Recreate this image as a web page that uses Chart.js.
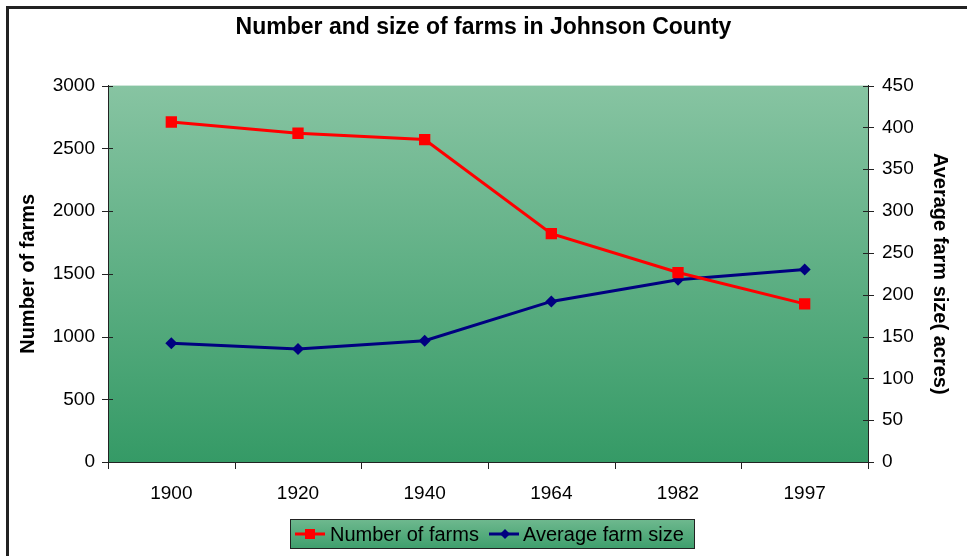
<!DOCTYPE html>
<html>
<head>
<meta charset="utf-8">
<script src="https://cdn.jsdelivr.net/npm/chart.js@4"></script>
<style>
  html, body { margin: 0; padding: 0; background: #fff; }
  #wrap { width: 967px; height: 556px; position: relative; }
</style>
</head>
<body>
<div id="wrap"><canvas id="farmChart" width="967" height="556"></canvas></div>
<script>
const YEARS = ['1900', '1920', '1940', '1964', '1982', '1997'];
const FARM_COUNT = [2710, 2620, 2570, 1820, 1510, 1260];
const FARM_SIZE = [142, 135, 145, 192, 218, 230];

const FONT = "'Liberation Sans', Arial, sans-serif";

// Frame, gradient plot background, crossing tick marks, legend
const decor = {
  id: 'decor',
  beforeDraw(chart) {
    const { ctx, chartArea: a } = chart;
    ctx.save();
    ctx.strokeStyle = '#222';
    ctx.lineWidth = 3;
    ctx.beginPath();
    ctx.moveTo(7.5, 600);
    ctx.lineTo(7.5, 7.5);
    ctx.lineTo(967, 7.5);
    ctx.stroke();

    const g = ctx.createLinearGradient(0, a.top, 0, a.bottom);
    g.addColorStop(0, '#87c4a2');
    g.addColorStop(1, '#359a66');
    ctx.fillStyle = g;
    ctx.fillRect(a.left, a.top, a.right - a.left, a.bottom - a.top);
    ctx.restore();
  },
  afterDraw(chart) {
    const { ctx, chartArea: a, scales } = chart;
    ctx.save();
    ctx.strokeStyle = '#222';
    ctx.lineWidth = 1;
    ctx.beginPath();
    scales.y.ticks.forEach((t, i) => {
      const y = Math.round(scales.y.getPixelForTick(i)) + 0.5;
      ctx.moveTo(a.left - 6, y);
      ctx.lineTo(a.left + 5, y);
    });
    scales.y1.ticks.forEach((t, i) => {
      const y = Math.round(scales.y1.getPixelForTick(i)) + 0.5;
      ctx.moveTo(a.right - 5, y);
      ctx.lineTo(a.right + 6, y);
    });
    const step = (a.right - a.left) / YEARS.length;
    for (let i = 0; i <= YEARS.length; i++) {
      const x = Math.round(a.left + i * step) + 0.5;
      ctx.moveTo(x, a.bottom);
      ctx.lineTo(x, a.bottom + 7);
    }
    ctx.stroke();

    // legend box
    const lx = 290, ly = 519, lw = 404, lh = 29;
    const lg = ctx.createLinearGradient(0, ly, 0, ly + lh);
    lg.addColorStop(0, '#6fb98f');
    lg.addColorStop(1, '#3f9f6d');
    ctx.fillStyle = lg;
    ctx.fillRect(lx, ly, lw, lh);
    ctx.strokeStyle = '#222';
    ctx.strokeRect(lx + 0.5, ly + 0.5, lw, lh);

    const cy = ly + lh / 2 + 0.5;
    ctx.lineWidth = 3;
    ctx.strokeStyle = '#ff0000';
    ctx.beginPath(); ctx.moveTo(295, cy); ctx.lineTo(325, cy); ctx.stroke();
    ctx.fillStyle = '#ff0000';
    ctx.fillRect(305, cy - 5, 10, 10);

    ctx.strokeStyle = '#000080';
    ctx.beginPath(); ctx.moveTo(489, cy); ctx.lineTo(519, cy); ctx.stroke();
    ctx.fillStyle = '#000080';
    ctx.beginPath();
    ctx.moveTo(505, cy - 5); ctx.lineTo(510, cy); ctx.lineTo(505, cy + 5); ctx.lineTo(500, cy);
    ctx.closePath(); ctx.fill();

    ctx.fillStyle = '#000';
    ctx.font = '20px ' + FONT;
    ctx.textBaseline = 'middle';
    ctx.fillText('Number of farms', 330, cy + 1);
    ctx.fillText('Average farm size', 523, cy + 1);
    ctx.restore();
  }
};

const plainTicks = v => String(v);

new Chart(document.getElementById('farmChart'), {
  type: 'line',
  data: {
    labels: YEARS,
    datasets: [
      {
        label: 'Number of farms',
        data: FARM_COUNT,
        yAxisID: 'y',
        borderColor: '#ff0000',
        backgroundColor: '#ff0000',
        borderWidth: 3,
        pointStyle: 'rect',
        pointRadius: 8,
        pointBorderWidth: 0,
        tension: 0
      },
      {
        label: 'Average farm size',
        data: FARM_SIZE,
        yAxisID: 'y1',
        borderColor: '#000080',
        backgroundColor: '#000080',
        borderWidth: 3,
        pointStyle: 'rectRot',
        pointRadius: 6,
        pointBorderWidth: 0,
        tension: 0
      }
    ]
  },
  options: {
    responsive: false,
    animation: false,
    layout: { padding: 0 },
    plugins: {
      legend: { display: false },
      tooltip: { enabled: false },
      title: {
        display: true,
        text: 'Number and size of farms in Johnson County',
        color: '#000',
        font: { family: FONT, size: 23, weight: 'bold' },
        padding: { top: 14, bottom: 44 }
      }
    },
    scales: {
      x: {
        offset: true,
        grid: { display: false },
        border: { display: true, color: '#222', width: 1 },
        ticks: { color: '#000', font: { family: FONT, size: 19 }, padding: 12, maxRotation: 0 },
        afterFit(s) { s.height = 94; }
      },
      y: {
        position: 'left',
        min: 0, max: 3000,
        grid: { display: false },
        border: { display: true, color: '#222', width: 1 },
        ticks: { stepSize: 500, color: '#000', font: { family: FONT, size: 19 }, padding: 5, callback: plainTicks },
        title: {
          display: true,
          text: 'Number of farms',
          color: '#000',
          font: { family: FONT, size: 20, weight: 'bold' },
          padding: { top: 16, bottom: 0 }
        },
        afterFit(s) { s.width = 108; }
      },
      y1: {
        position: 'right',
        min: 0, max: 450,
        grid: { display: false },
        border: { display: true, color: '#222', width: 1 },
        ticks: { stepSize: 50, color: '#000', font: { family: FONT, size: 19 }, padding: 6, callback: plainTicks },
        title: {
          display: true,
          text: 'Average farm size( acres)',
          color: '#000',
          font: { family: FONT, size: 20, weight: 'bold' },
          padding: { top: 15, bottom: 0 }
        },
        afterFit(s) { s.width = 99; }
      }
    }
  },
  plugins: [decor]
});
</script>
</body>
</html>
